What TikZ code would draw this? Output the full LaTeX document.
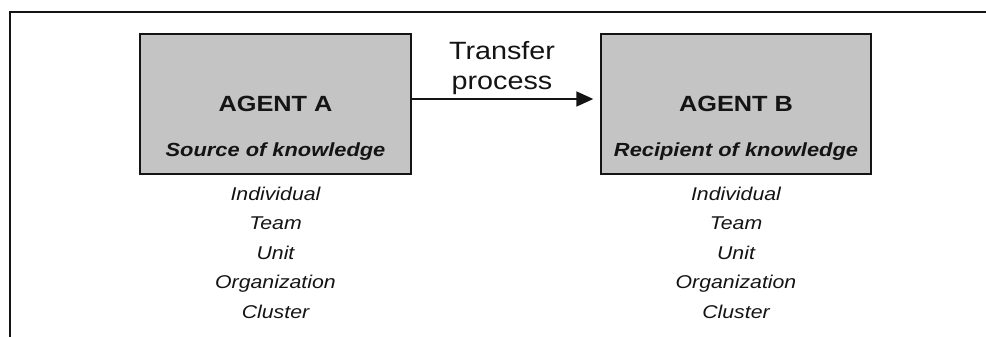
\documentclass[tikz,border=0pt]{standalone}
\usepackage{fontspec}
\setmainfont{Liberation Sans}
\newfontfamily\wfont[FakeStretch=1.15]{Liberation Sans}
\usetikzlibrary{arrows.meta}
\definecolor{boxgray}{RGB}{196,196,196}
\definecolor{ink}{RGB}{20,20,20}
\tikzset{
  agentbox/.style={draw=ink, line width=1.4pt, fill=boxgray, minimum height=140pt, inner sep=0pt},
  titletext/.style={anchor=base, inner sep=0pt, text=ink, font=\wfont\fontsize{22}{26}\selectfont\bfseries},
  roletext/.style={anchor=base, inner sep=0pt, text=ink, font=\wfont\fontsize{19}{23}\selectfont\bfseries\itshape},
  leveltext/.style={anchor=base, inner sep=0pt, text=ink, font=\wfont\fontsize{18.5}{22}\selectfont\itshape},
  transfertext/.style={anchor=base, inner sep=0pt, text=ink, font=\wfont\fontsize{25}{29}\selectfont},
  flow/.style={draw=ink, line width=1.8pt, -{Triangle[length=17pt,width=15pt]}},
  frame/.style={draw=ink, line width=2pt}
}
\begin{document}
\begin{tikzpicture}[x=1pt,y=-1pt]
\useasboundingbox (0,0) rectangle (986,337);
% frame (top and left only)
\coordinate (fbl) at (10,337);
\coordinate (ftl) at (10,12);
\coordinate (ftr) at (986,12);
\draw[frame] (fbl) -- (ftl) -- (ftr);
% agent boxes
\node[agentbox, minimum width=271pt] (A) at (275.5,104) {};
\node[agentbox, minimum width=270pt] (B) at (736,104) {};
\node[titletext] (At) at (275.5,111) {AGENT A};
\node[roletext] (As) at (275.5,156) {Source of knowledge};
\node[titletext] (Bt) at (736,111) {AGENT B};
\node[roletext] (Bs) at (736,156) {Recipient of knowledge};
% transfer arrow
\coordinate (ay) at (0,99);
\draw[flow, shorten >=7pt] (A.east |- ay) -- (B.west |- ay);
\node[transfertext] (T1) at (502,60) {Transfer};
\node[transfertext] (T2) at (502,89) {process};
% levels
\foreach \t [count=\i] in {Individual,Team,Unit,Organization,Cluster}{
  \node[leveltext] (LA\i) at (275.5,{200+29.5*(\i-1)}) {\t};
  \node[leveltext] (LB\i) at (736,{200+29.5*(\i-1)}) {\t};
}
\end{tikzpicture}
\end{document}
